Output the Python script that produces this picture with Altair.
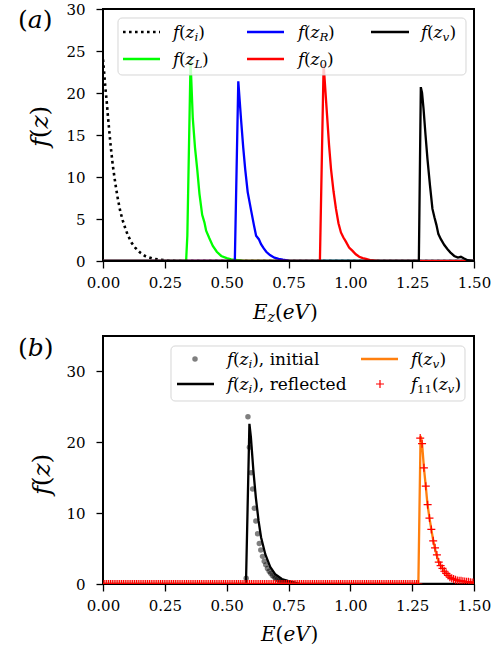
import altair as alt
import pandas as pd

FONT = "DejaVu Serif"

# ---------------- panel (a) data ----------------
zi_E = [0.0, 0.005, 0.01, 0.015, 0.02, 0.025, 0.03, 0.035, 0.04, 0.05, 0.06, 0.07, 0.08,
        0.09, 0.1, 0.115, 0.13, 0.15, 0.17, 0.2, 0.23, 0.26, 0.3, 1.5]
zi_f = [24.0, 22.3, 20.5, 19.0, 17.2, 15.6, 14.0, 12.6, 11.3, 9.2, 7.4, 5.9, 4.8,
        3.9, 3.1, 2.2, 1.6, 1.0, 0.6, 0.3, 0.15, 0.05, 0.0, 0.0]

zL_E = [0.0, 0.336, 0.341, 0.354, 0.363, 0.372, 0.381, 0.39, 0.401, 0.41, 0.417, 0.43,
        0.444, 0.46, 0.478, 0.5, 0.518, 0.545, 0.57, 1.5]
zL_f = [0.0, 0.0, 3.0, 23.8, 17.0, 13.5, 10.9, 8.0, 5.5, 4.6, 3.6, 2.7,
        1.8, 1.1, 0.6, 0.35, 0.2, 0.1, 0.0, 0.0]

zR_E = [0.0, 0.533, 0.547, 0.558, 0.567, 0.575, 0.585, 0.599, 0.61, 0.619, 0.63, 0.639,
        0.65, 0.66, 0.675, 0.693, 0.71, 0.727, 0.75, 0.78, 1.5]
zR_f = [0.0, 0.0, 21.4, 16.9, 13.5, 10.9, 8.2, 6.0, 4.3, 3.0, 2.6, 2.0,
        1.5, 1.1, 0.7, 0.4, 0.25, 0.15, 0.05, 0.0, 0.0]

z0_E = [0.0, 0.877, 0.892, 0.906, 0.914, 0.922, 0.932, 0.942, 0.952, 0.962, 0.972, 0.982,
        0.995, 1.009, 1.022, 1.036, 1.05, 1.063, 1.08, 1.1, 1.12, 1.5]
z0_f = [0.0, 0.0, 23.4, 17.3, 13.8, 10.9, 8.3, 6.2, 4.5, 3.4, 2.8, 2.3,
        1.6, 1.2, 0.8, 0.5, 0.35, 0.25, 0.1, 0.05, 0.0, 0.0]

zv_E = [0.0, 1.277, 1.285, 1.29, 1.296, 1.304, 1.312, 1.322, 1.332, 1.34, 1.348, 1.356,
        1.366, 1.38, 1.393, 1.405, 1.42, 1.435, 1.447, 1.46, 1.474, 1.49, 1.5]
zv_f = [0.0, 0.0, 20.7, 20.0, 18.1, 15.0, 12.1, 9.0, 6.2, 5.2, 4.3, 3.2,
        2.6, 1.9, 1.4, 1.0, 0.6, 0.4, 0.5, 0.3, 0.1, 0.05, 0.0]

# ---------------- panel (b) data ----------------
init_E = [0.579, 0.586, 0.592, 0.599, 0.605, 0.612, 0.618, 0.625, 0.632, 0.638, 0.645,
          0.652, 0.658, 0.665, 0.672, 0.678, 0.685, 0.692, 0.698, 0.705, 0.712, 0.718,
          0.725, 0.732, 0.738, 0.745, 0.752, 0.758, 0.765]
init_f = [0.8, 23.6, 19.3, 15.7, 13.4, 10.7, 8.9, 7.1, 5.7, 4.8, 3.9,
          3.2, 2.7, 2.2, 1.8, 1.5, 1.2, 1.0, 0.8, 0.65, 0.5, 0.4,
          0.35, 0.3, 0.25, 0.2, 0.15, 0.1, 0.05]

refl_E = [0.0, 0.578, 0.592, 0.598, 0.608, 0.618, 0.629, 0.639, 0.656, 0.676, 0.696,
          0.723, 0.75, 0.78, 0.8, 1.5]
refl_f = [0.0, 0.0, 22.6, 20.7, 16.0, 12.2, 8.9, 6.6, 4.2, 2.4, 1.4,
          0.7, 0.4, 0.15, 0.0, 0.0]

fv_E = [0.0, 1.275, 1.284, 1.29, 1.298, 1.305, 1.312, 1.32, 1.329, 1.336, 1.345, 1.356,
        1.365, 1.38, 1.395, 1.41, 1.43, 1.45, 1.47, 1.5]
fv_f = [0.0, 0.0, 20.9, 19.8, 16.2, 13.8, 11.2, 9.3, 7.4, 6.0, 4.6, 3.2,
        2.6, 1.8, 1.2, 0.8, 0.5, 0.4, 0.3, 0.2]

# f11 sampled on the simulation grid (step 0.0075 eV); zero up to 1.275 eV
f11_E = [round(i * 0.0075, 4) for i in range(201)]
f11_peak = [20.6, 19.8, 16.4, 13.8, 11.2, 9.3, 7.7, 6.1, 5.1, 4.1, 3.1, 2.6, 2.2, 1.8, 1.5,
            1.2, 0.95, 0.8, 0.7, 0.6, 0.5, 0.45, 0.45, 0.4, 0.35, 0.3, 0.3, 0.25, 0.2, 0.2]
f11_f = [0.0] * 171 + f11_peak

x_ticks = [0.0, 0.25, 0.5, 0.75, 1.0, 1.25, 1.5]
ya_ticks = [0, 5, 10, 15, 20, 25, 30]
yb_ticks = [0, 10, 20, 30]

# ---------------- text helpers (subscripts built from pieces) ----------------
W_IT = {'f': 0.35, 'z': 0.52, 'i': 0.32, 'v': 0.59, 'L': 0.64, 'R': 0.73,
        'E': 0.73, 'e': 0.59, 'V': 0.77, 'a': 0.6, 'b': 0.64}
W_RM = {'(': 0.39, ')': 0.39, ',': 0.32, ' ': 0.32, '0': 0.636, '1': 0.636}


def piece_width(txt, st, size):
    tab = W_IT if st in ('it', 'sub') else W_RM
    return sum(tab.get(c, 0.55) for c in txt) * size


def place(pieces, x0, y0, size):
    rows, off = [], 0.0
    for txt, st in pieces:
        sub = st.startswith('sub')
        fs = size * 0.7 if sub else size
        rows.append(dict(px=x0 + off, py=y0 + (size * 0.16 if sub else 0), txt=txt, fs=fs,
                         it=st in ('it', 'sub')))
        off += piece_width(txt, st, fs)
    return rows


def fz(sub, sub_style='sub'):
    return [('f', 'it'), ('(', 'rm'), ('z', 'it'), (sub, sub_style), (')', 'rm')]


def text_layers(rows, angle=0):
    out = []
    for italic in (True, False):
        sel = [r for r in rows if r['it'] == italic]
        if not sel:
            continue
        out.append(
            alt.Chart(pd.DataFrame(sel)).mark_text(
                font=FONT, fontStyle='italic' if italic else 'normal', align='left',
                baseline='alphabetic', angle=angle, color='black'
            ).encode(
                x=alt.X('px:Q', scale=None, axis=None),
                y=alt.Y('py:Q', scale=None, axis=None),
                text='txt:N',
                size=alt.Size('fs:Q', scale=None, legend=None),
            )
        )
    return out


def xaxis():
    return alt.Axis(values=x_ticks, format='.2f', title=None, grid=False, domain=False,
                    tickSize=7, tickWidth=1.3, tickColor='black', labelFont=FONT,
                    labelFontSize=15, labelColor='black', labelPadding=7,
                    labelFlush=False, labelOverlap=False)


def yaxis(vals):
    return alt.Axis(values=vals, format='d', title=None, grid=False, domain=False,
                    tickSize=7, tickWidth=1.3, tickColor='black', labelFont=FONT,
                    labelFontSize=15, labelColor='black', labelPadding=11,
                    labelOverlap=False)


def line(E, f, color, ydom, yvals, dash=None, width=2.3):
    kw = dict(color=color, strokeWidth=width, clip=True)
    if dash:
        kw['strokeDash'] = dash
    return alt.Chart(pd.DataFrame({'E': E, 'f': f})).mark_line(**kw).encode(
        x=alt.X('E:Q', scale=alt.Scale(domain=[0, 1.5], nice=False, zero=False), axis=xaxis()),
        y=alt.Y('f:Q', scale=alt.Scale(domain=ydom, nice=False, zero=False), axis=yaxis(yvals)),
    )


def legend_box(x1, x2, y1, y2):
    return alt.Chart(pd.DataFrame({'a': [x1], 'b': [x2], 'c': [y1], 'd': [y2]})).mark_rect(
        fill='white', fillOpacity=0.8, stroke='#cccccc', strokeOpacity=0.8, strokeWidth=1,
        cornerRadius=4
    ).encode(x=alt.X('a:Q', scale=None, axis=None), x2='b:Q',
             y=alt.Y('c:Q', scale=None, axis=None), y2='d:Q')


def legend_lines(rows, dash=None, width=2.3):
    kw = dict(strokeWidth=width)
    if dash:
        kw['strokeDash'] = dash
    return alt.Chart(pd.DataFrame(rows)).mark_rule(**kw).encode(
        x=alt.X('x1:Q', scale=None, axis=None), x2='x2:Q',
        y=alt.Y('y:Q', scale=None, axis=None),
        color=alt.Color('c:N', scale=None, legend=None),
    )


DOT = [2.6, 3.4]
LEG = 17

# ---------------- panel (a) ----------------
ya = [0, 30]
layers_a = [
    line(zi_E, zi_f, 'black', ya, ya_ticks, dash=DOT, width=2.6),
    line(zL_E, zL_f, '#00ff00', ya, ya_ticks),
    line(zR_E, zR_f, '#0000ff', ya, ya_ticks),
    line(z0_E, z0_f, '#ff0000', ya, ya_ticks),
    line(zv_E, zv_f, 'black', ya, ya_ticks),
    legend_box(15, 363, 9, 66),
    legend_lines([dict(x1=20, x2=57, y=23, c='black')], dash=DOT, width=2.6),
    legend_lines([dict(x1=20, x2=57, y=50, c='#00ff00'),
                  dict(x1=144, x2=181, y=23, c='#0000ff'),
                  dict(x1=144, x2=181, y=50, c='#ff0000'),
                  dict(x1=268, x2=306, y=23, c='black')]),
]
rows_a = []
rows_a += place(fz('i'), 70, 29, LEG)
rows_a += place(fz('L'), 70, 56, LEG)
rows_a += place(fz('R'), 195, 29, LEG)
rows_a += place(fz('0', 'subrm'), 195, 56, LEG)
rows_a += place(fz('v'), 318, 29, LEG)
rows_a += place([('(', 'rm'), ('a', 'it'), (')', 'rm')], -85, 19, 25)
rows_a += place([('E', 'it'), ('z', 'sub'), ('(', 'rm'), ('eV', 'it'), (')', 'rm')], 150, 310, 20)
layers_a += text_layers(rows_a)
rot_a = place([('f', 'it'), ('(', 'rm'), ('z', 'it'), (')', 'rm')], 0, 0, 25)
for r in rot_a:
    r['py'] = 138 - r['px']
    r['px'] = -55
layers_a += text_layers(rot_a, angle=270)

panel_a = alt.layer(*layers_a).properties(width=371, height=252)

# ---------------- panel (b) ----------------
yb = [0, 35]
pts_init = alt.Chart(pd.DataFrame({'E': init_E, 'f': init_f})).mark_point(
    shape='circle', filled=True, size=30, color='black', opacity=0.5, clip=True
).encode(x=alt.X('E:Q', scale=alt.Scale(domain=[0, 1.5], nice=False, zero=False), axis=xaxis()),
         y=alt.Y('f:Q', scale=alt.Scale(domain=yb, nice=False, zero=False), axis=yaxis(yb_ticks)))
PLUS = 'M-1,0L1,0M0,-1L0,1'
pts_f11 = alt.Chart(pd.DataFrame({'E': f11_E, 'f': f11_f})).mark_point(
    shape=PLUS, filled=False, size=64, color='#ff0000', strokeWidth=1.2, clip=True, opacity=1
).encode(x='E:Q', y='f:Q')

layers_b = [
    pts_init,
    line(refl_E, refl_f, 'black', yb, yb_ticks),
    line(fv_E, fv_f, '#ff7f0e', yb, yb_ticks),
    pts_f11,
    legend_box(68, 362, 10, 65),
    legend_lines([dict(x1=74, x2=111, y=48, c='black'),
                  dict(x1=258, x2=295, y=23, c='#ff7f0e')]),
    alt.Chart(pd.DataFrame({'x': [92], 'y': [23]})).mark_point(
        shape='circle', filled=True, size=30, color='black', opacity=0.5
    ).encode(x=alt.X('x:Q', scale=None, axis=None), y=alt.Y('y:Q', scale=None, axis=None)),
    alt.Chart(pd.DataFrame({'x': [277], 'y': [48]})).mark_point(
        shape=PLUS, filled=False, size=64, color='#ff0000', strokeWidth=1.2, opacity=1
    ).encode(x=alt.X('x:Q', scale=None, axis=None), y=alt.Y('y:Q', scale=None, axis=None)),
]
rows_b = []
rows_b += place(fz('i') + [(', initial', 'rm')], 124, 29, LEG)
rows_b += place(fz('i') + [(', reflected', 'rm')], 124, 54, LEG)
rows_b += place(fz('v'), 308, 29, LEG)
rows_b += place([('f', 'it'), ('11', 'subrm'), ('(', 'rm'), ('z', 'it'), ('v', 'sub'), (')', 'rm')],
                308, 54, LEG)
rows_b += place([('(', 'rm'), ('b', 'it'), (')', 'rm')], -85, 20, 25)
rows_b += place([('E', 'it'), ('(', 'rm'), ('eV', 'it'), (')', 'rm')], 158, 305, 20)
layers_b += text_layers(rows_b)
rot_b = place([('f', 'it'), ('(', 'rm'), ('z', 'it'), (')', 'rm')], 0, 0, 25)
for r in rot_b:
    r['py'] = 159 - r['px']
    r['px'] = -53
layers_b += text_layers(rot_b, angle=270)

panel_b = alt.layer(*layers_b).properties(width=371, height=248)

chart = alt.vconcat(panel_a, panel_b, spacing=75, bounds='flush').properties(
    padding={'left': 17, 'top': 1, 'right': 5, 'bottom': 5},
    background='white',
).configure_view(stroke='black', strokeWidth=2)

chart.save('out.html', embed_options={'renderer': 'svg', 'actions': False})
